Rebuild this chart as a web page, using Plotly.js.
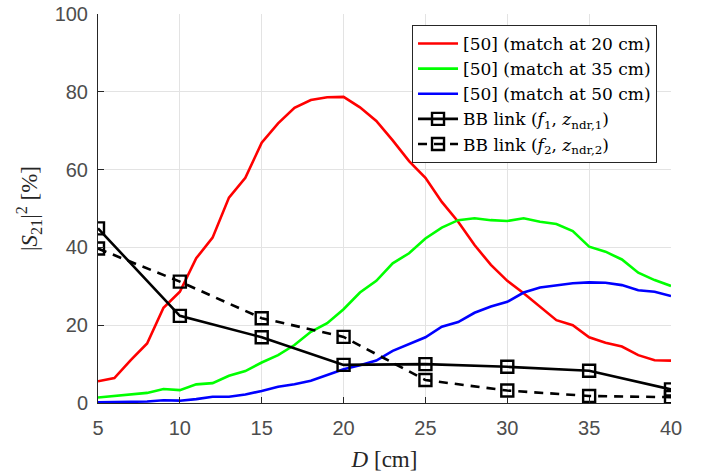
<!DOCTYPE html>
<html><head><meta charset="utf-8">
<script src="https://cdn.plot.ly/plotly-3.0.1.min.js"></script>
<style>body{margin:0;background:#fff}#c{width:711px;height:472px}</style>
</head><body><div id="c"></div>
<script>
const D = [5,6,7,8,9,10,11,12,13,14,15,16,17,18,19,20,21,22,23,24,25,26,27,28,29,30,31,32,33,34,35,36,37,38,39,40];
const red = [5.6,6.4,11,15.3,24.5,28.6,37.2,42.5,52.8,57.9,66.9,71.9,75.9,77.9,78.6,78.7,76.0,72.5,67.5,62.2,57.9,51.7,46.6,40.6,35.5,31.4,28.2,24.8,21.3,20.0,16.9,15.5,14.5,12.3,11.0,10.9];
const green = [1.4,1.8,2.2,2.6,3.6,3.3,4.8,5.1,7.0,8.2,10.4,12.3,14.9,18.3,20.5,24.1,28.4,31.4,35.9,38.5,42.3,45.1,47.0,47.5,47.0,46.8,47.5,46.6,46.0,44.2,40.2,38.9,36.9,33.5,31.6,30.1];
const blue = [0.2,0.2,0.3,0.4,0.7,0.6,1.0,1.6,1.6,2.2,3.1,4.2,4.8,5.7,7.2,8.7,9.7,10.9,13.4,15.1,16.9,19.6,20.8,23.2,24.8,26.0,28.4,29.7,30.2,30.8,31.0,30.9,30.3,29.0,28.6,27.5];
const Dbb = [5,10,15,20,25,30,35,40];
const bb1 = [44.9,22.4,16.9,9.8,10.0,9.3,8.3,3.5];
const bb2 = [39.7,31.2,21.8,17.0,5.9,3.2,1.8,1.5];
const names = ['[50] (match at 20 cm)','[50] (match at 35 cm)','[50] (match at 50 cm)',
  'BB link (<i>f</i><sub>1</sub>, <i>z</i><sub>ndr,1</sub>)','BB link (<i>f</i><sub>2</sub>, <i>z</i><sub>ndr,2</sub>)'];
const xticks = [5,10,15,20,25,30,35,40];
const yticks = [0,20,40,60,80,100];

const lw = 2.6;
const traces = [
  {x:D,y:red,mode:'lines',name:names[0],line:{color:'#ff0000',width:lw}},
  {x:D,y:green,mode:'lines',name:names[1],line:{color:'#00ff00',width:lw}},
  {x:D,y:blue,mode:'lines',name:names[2],line:{color:'#0000ff',width:lw}},
  {x:Dbb,y:bb1,mode:'lines+markers',name:names[3],line:{color:'#000',width:2.6},
   marker:{symbol:'square-open',size:12,color:'#000',line:{width:2.4,color:'#000'}}},
  {x:Dbb,y:bb2,mode:'lines+markers',name:names[4],line:{color:'#000',width:2.6,dash:'9px,7px'},
   marker:{symbol:'square-open',size:12,color:'#000',line:{width:2.4,color:'#000'}}}
];
const tickfont = {family:'Liberation Sans, Arial, sans-serif',size:20,color:'#4d4d4d'};
const serif = 'DejaVu Serif, Liberation Serif, serif';
const layout = {
  width:711,height:472,
  margin:{l:98,r:40,t:14,b:69},
  paper_bgcolor:'#fff',plot_bgcolor:'#fff',
  showlegend:true,
  legend:{x:0.9756,y:0.9717,xanchor:'right',yanchor:'top',bgcolor:'#fff',bordercolor:'#262626',borderwidth:1,
    font:{family:serif,size:17,color:'#000'},tracegroupgap:0,itemwidth:40},
  xaxis:{range:[5,40],tickvals:xticks,ticktext:xticks.map(String),tickfont:tickfont,ticklabelstandoff:7,
    showgrid:true,gridcolor:'#e3e3e3',gridwidth:1,zeroline:false,
    showline:true,linecolor:'#262626',linewidth:1,ticks:'inside',ticklen:6,tickcolor:'#262626',
    title:{text:'<i>D</i> [cm]',font:{family:'Liberation Serif, Times New Roman, serif',size:23,color:'#262626'},standoff:12}},
  yaxis:{range:[0,100],tickvals:yticks,ticktext:yticks.map(String),tickfont:tickfont,ticklabelstandoff:5,
    showgrid:true,gridcolor:'#e3e3e3',gridwidth:1,zeroline:false,
    showline:true,linecolor:'#262626',linewidth:1,ticks:'inside',ticklen:6,tickcolor:'#262626',
    title:{text:'|<i>S</i><sub>21</sub>|<sup>2</sup> [%]',font:{family:'Liberation Serif, Times New Roman, serif',size:23,color:'#262626'},standoff:10}}
};
Plotly.newPlot('c',traces,layout,{displayModeBar:false,staticPlot:true});
</script></body></html>
